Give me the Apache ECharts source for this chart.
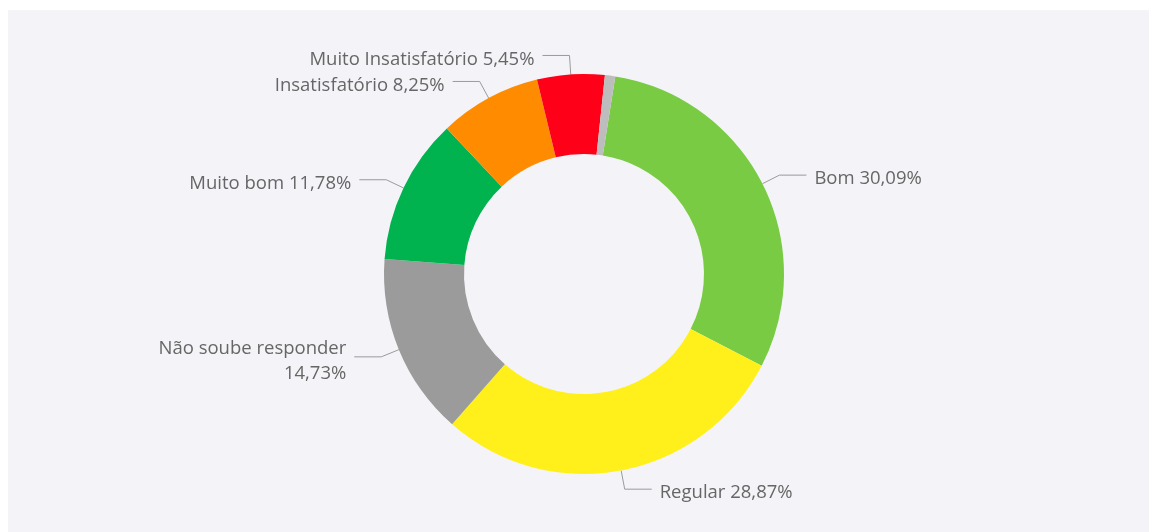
<!DOCTYPE html>
<html>
<head>
<meta charset="utf-8">
<script src="https://cdn.jsdelivr.net/npm/echarts@6/dist/echarts.min.js"></script>
<style>
  html, body { margin: 0; padding: 0; background: #ffffff; }
  #panel { position: absolute; left: 8px; top: 10px; width: 1141px; height: 522px; background: #f4f4f8; }
  #donut { position: absolute; left: 0; top: 0; width: 1149px; height: 532px; }
</style>
</head>
<body>
<div id="panel"></div>
<div id="donut"></div>
<script>
// categorias e percentuais (ordem horária a partir de "Bom")
const categories = ["Bom", "Regular", "Não soube responder", "Muito bom", "Insatisfatório", "Muito Insatisfatório", "Outros"];
const values = [30.09, 28.87, 14.73, 11.78, 8.25, 5.45, 0.83];
const colors = ["#79cb43", "#fff01c", "#9b9b9b", "#00b34f", "#ff8c00", "#ff0019", "#bdbdbd"];
const showLabel = [true, true, true, true, true, true, false];

const myChart = echarts.init(document.getElementById("donut"));

const pieData = categories.map(function (name, i) {
  const item = {
    name: name,
    value: values[i],
    itemStyle: { color: colors[i] },
    label: { show: showLabel[i] },
    labelLine: { show: showLabel[i] },
  };
  if (name === "Não soube responder") {
    item.label.lineHeight = 25;
  }
  return item;
});

const option = {
  animation: false,
  series: [
    {
      type: "pie",
      center: [584, 274],
      radius: [120, 200],
      startAngle: 81,
      clockwise: true,
      avoidLabelOverlap: false,
      label: {
        show: true,
        position: "outside",
        color: "#666666",
        fontSize: 18.5,
        fontFamily: "Open Sans",
        lineHeight: 19,
        distanceToLabelLine: 8,
        formatter: function (p) {
          const pct = p.value.toFixed(2).replace(".", ",") + "%";
          if (p.name === "Não soube responder") {
            return p.name + "\n" + pct;
          }
          return p.name + " " + pct;
        },
      },
      labelLayout: { hideOverlap: false, dy: 4 },
      labelLine: {
        show: true,
        length: 19,
        length2: 27,
        lineStyle: { color: "#9a9a9a", width: 1 },
      },
      itemStyle: { borderWidth: 0 },
      emphasis: { disabled: true },
      data: pieData,
    },
  ],
};
myChart.setOption(option);
</script>
</body>
</html>
